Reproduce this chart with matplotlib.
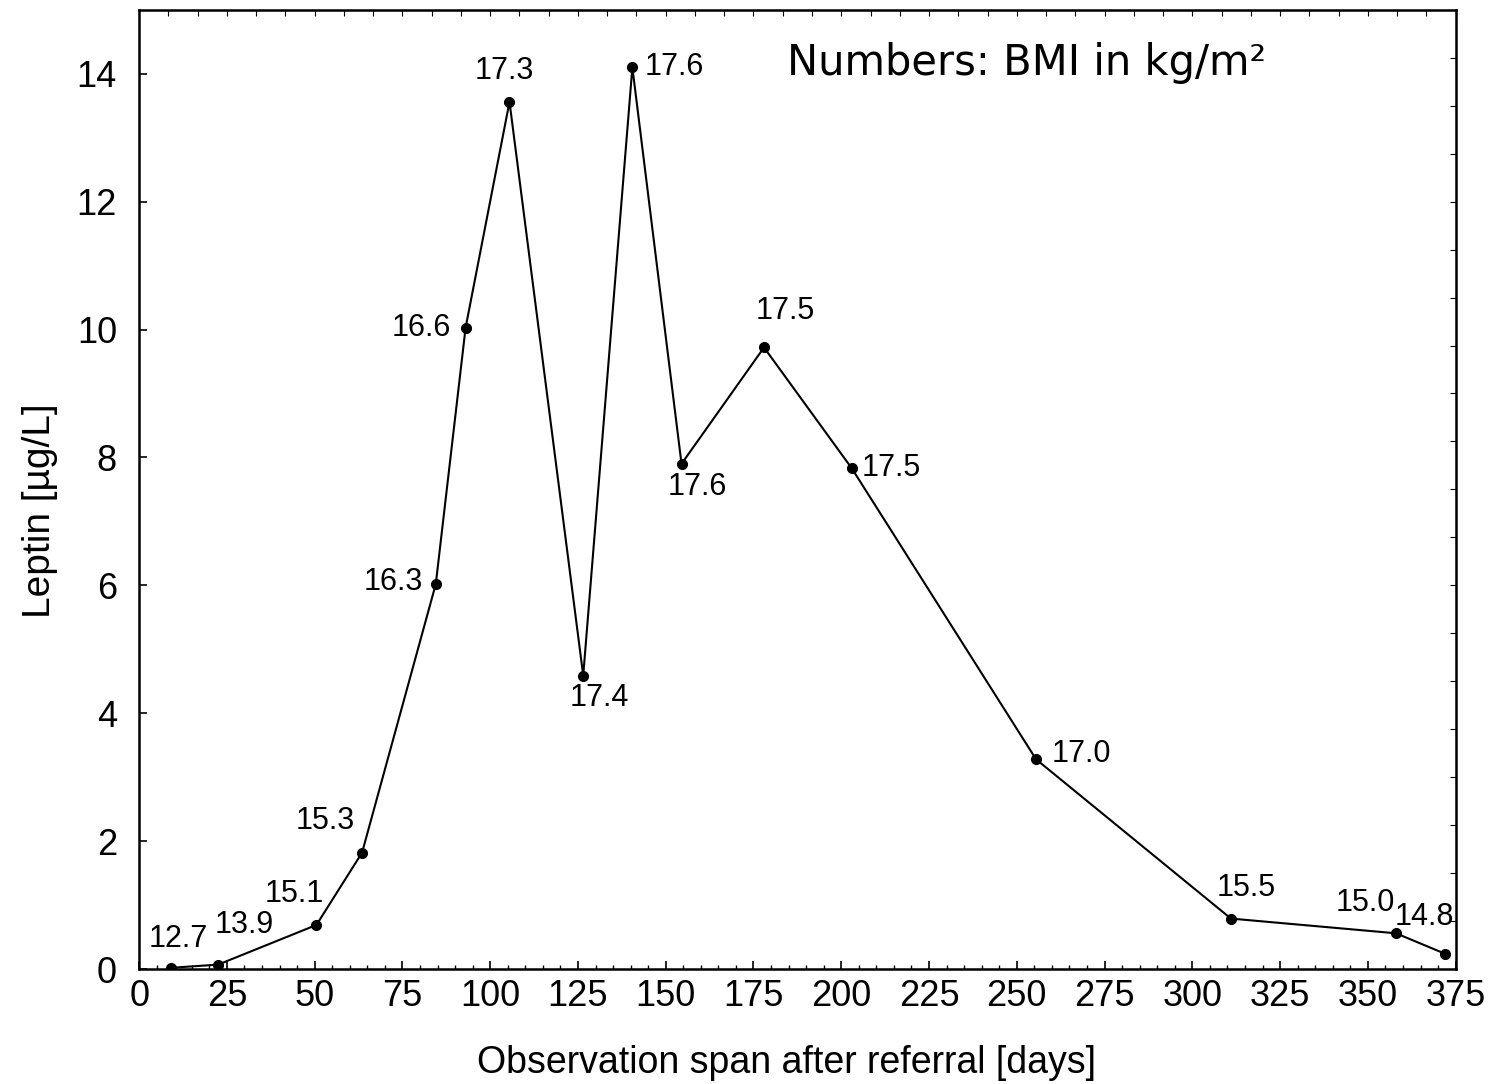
import numpy as np
import matplotlib
matplotlib.use("Agg")
import matplotlib.pyplot as plt

plt.rcParams['font.family'] = ['Liberation Sans', 'DejaVu Sans']

# days after referral, leptin (ug/L) and BMI label at each point
days = [9, 22.5, 50.5, 63.5, 84.5, 93, 105.5, 126.5, 140.5, 154.5, 178, 203, 255.5, 311, 358, 372]
leptin = [0.02, 0.07, 0.69, 1.82, 6.02, 10.03, 13.56, 4.59, 14.1, 7.9, 9.72, 7.83, 3.28, 0.79, 0.56, 0.24]
bmi = ["12.7", "13.9", "15.1", "15.3", "16.3", "16.6", "17.3", "17.4",
       "17.6", "17.6", "17.5", "17.5", "17.0", "15.5", "15.0", "14.8"]

# label placement (pixels offset from point, horizontal alignment)
offsets = [(8, 29, 'center'), (26, 40, 'center'), (-22, 31, 'center'), (-37, 32, 'center'),
           (-13, 2, 'right'), (-15, 0, 'right'), (-5, 31, 'center'), (16, -22, 'center'),
           (12, 0, 'left'), (16, -23, 'center'), (21, 36, 'center'), (10, 0, 'left'),
           (16, 5, 'left'), (15, 31, 'center'), (-31, 30, 'center'), (-21, 37, 'center')]

fig = plt.figure(figsize=(14.96, 10.84), dpi=100)
ax = fig.add_axes([0.093, 0.106, 0.880, 0.885])

ax.plot(days, leptin, color='black', lw=1.5, marker='o', ms=7)

for x, y, lab, (dx, dy, ha) in zip(days, leptin, bmi, offsets):
    ax.annotate(lab, (x, y), xytext=(dx, dy), textcoords='offset pixels',
                ha=ha, va='center', fontsize=22)

ax.set_xlim(0, 375)
ax.set_ylim(0, 15)
ax.set_xticks(np.arange(0, 376, 25))
ax.set_xticks(np.arange(0, 376, 5), minor=True)
ax.set_yticks(np.arange(0, 15, 2))
ax.tick_params(axis='both', which='major', direction='in', length=6, width=1.2,
               labelsize=26)
ax.tick_params(axis='x', which='major', pad=7)
ax.tick_params(axis='y', which='major', pad=16)
ax.tick_params(axis='both', which='minor', direction='in', length=3, width=1)

top = ax.secondary_xaxis('top')
top.set_xticks(np.arange(0, 376, 25 / 3))
top.tick_params(direction='in', length=4, labeltop=False)
right = ax.secondary_yaxis('right')
right.set_yticks(np.arange(0, 15.1, 0.75))
right.tick_params(direction='in', length=4, labelright=False)

for s in ax.spines.values():
    s.set_linewidth(1.8)

ax.set_xlabel("Observation span after referral [days]", fontsize=27, va='center')
ax.set_ylabel("Leptin [µg/L]", fontsize=28, va='center')
ax.xaxis.set_label_coords(0.492, -0.098)
ax.yaxis.set_label_coords(-0.075, 0.478)

ax.text(0.492, 0.944, "Numbers: BMI in kg/m²", transform=ax.transAxes,
        fontsize=30, family='DejaVu Sans', va='center', ha='left')

fig.savefig("out.png", dpi=100)
